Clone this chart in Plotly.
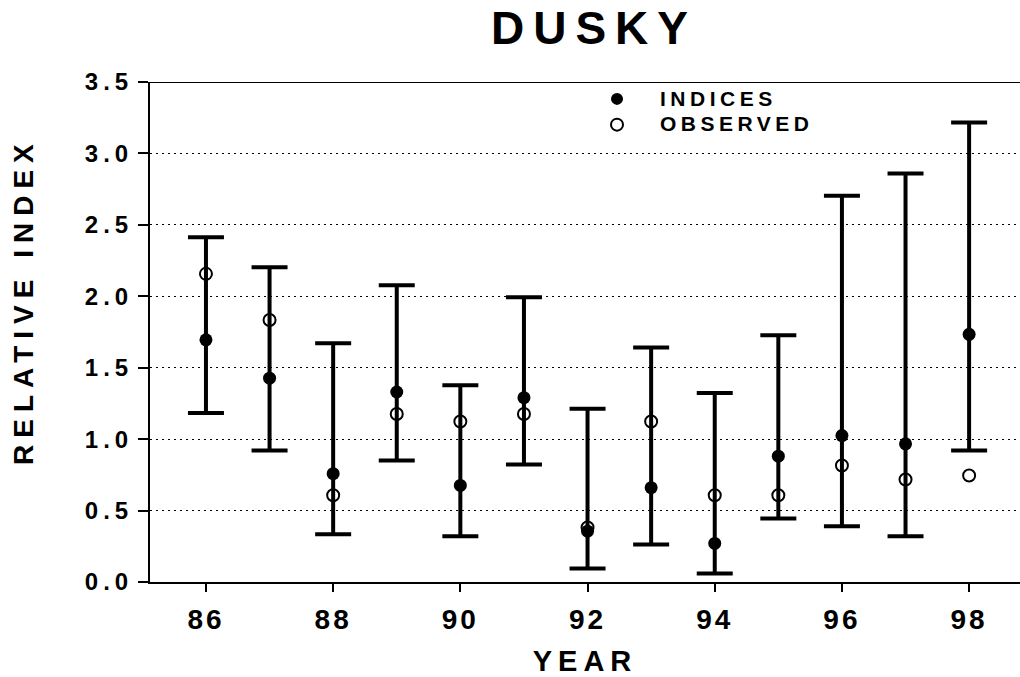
import plotly.graph_objects as go

# ---- data ----
years = [86, 87, 88, 89, 90, 91, 92, 93, 94, 95, 96, 97, 98]
indices = [1.695, 1.427, 0.758, 1.330, 0.676, 1.290, 0.356, 0.660, 0.270, 0.881, 1.025, 0.967, 1.734]
upper = [2.413, 2.204, 1.671, 2.078, 1.378, 1.994, 1.213, 1.641, 1.323, 1.727, 2.704, 2.859, 3.217]
lower = [1.183, 0.920, 0.335, 0.851, 0.321, 0.823, 0.095, 0.263, 0.060, 0.444, 0.390, 0.321, 0.920]
observed = [2.157, 1.834, 0.607, 1.176, 1.123, 1.176, 0.381, 1.123, 0.607, 0.607, 0.816, 0.718, 0.746]

x_ticks = [86, 88, 90, 92, 94, 96, 98]
x_labels = ["86", "88", "90", "92", "94", "96", "98"]
y_ticks = [0.0, 0.5, 1.0, 1.5, 2.0, 2.5, 3.0, 3.5]
y_labels = ["0.0", "0.5", "1.0", "1.5", "2.0", "2.5", "3.0", "3.5"]

FONT = "Liberation Sans, Arial, sans-serif"

W, H = 1020, 677
L, R, T, B = 150, 0, 82, 677 - 582
PW, PH = W - L - R, H - T - B


def spaced(txt, px, size=None):
    fs = f";font-size:{size}px" if size else ""
    return f'<span style="letter-spacing:{px}px{fs}">{txt}</span>'


err_plus = [u - v for u, v in zip(upper, indices)]
err_minus = [v - l for v, l in zip(indices, lower)]

fig = go.Figure()
fig.add_trace(go.Scatter(
    x=years, y=indices, mode="markers", name=spaced("INDICES", 4.5, 21),
    marker=dict(symbol="circle", size=13, color="black"),
    error_y=dict(type="data", array=err_plus, arrayminus=err_minus,
                 symmetric=False, thickness=4, width=18, color="black"),
))
fig.add_trace(go.Scatter(
    x=years, y=observed, mode="markers", name=spaced("OBSERVED", 4.5, 21),
    marker=dict(symbol="circle-open", size=12, color="black",
                line=dict(width=2, color="black")),
))

fig.add_shape(type="line", xref="paper", yref="y", x0=0, x1=1, y0=3.5, y1=3.5,
              line=dict(color="black", width=2))

fig.add_annotation(
    text=spaced("RELATIVE INDEX", 7), xref="paper", yref="paper",
    x=(23 - L) / PW, y=(582 - 301) / PH, textangle=-90, showarrow=False,
    xanchor="center", yanchor="middle",
    font=dict(family=FONT, size=28, color="black", weight="bold"),
)

fig.update_layout(
    width=W, height=H,
    margin=dict(l=L, r=R, t=T, b=B, pad=0),
    paper_bgcolor="white", plot_bgcolor="white",
    title=dict(text=spaced("DUSKY", 9), xref="container", x=594 / W,
               xanchor="center", yref="container", y=1 - 28 / H, yanchor="middle",
               font=dict(family=FONT, size=46, color="black", weight="bold")),
    font=dict(family=FONT, color="black"),
    showlegend=True,
    legend=dict(x=(574 - L) / PW, y=(582 - 81) / PH, xanchor="left", yanchor="top",
                bgcolor="rgba(0,0,0,0)", borderwidth=0, itemsizing="constant",
                itemwidth=76,
                font=dict(family=FONT, size=17.5, color="black", weight="bold")),
    xaxis=dict(range=[85.12, 98.80], tickmode="array", tickvals=x_ticks,
               ticktext=[spaced(t, 3) for t in x_labels],
               ticks="outside", ticklen=8, tickwidth=2, tickcolor="black",
               ticklabelstandoff=3,
               showline=True, linewidth=2, linecolor="black",
               showgrid=False, zeroline=False,
               tickfont=dict(family=FONT, size=28, color="black", weight="bold"),
               title=dict(text=spaced("YEAR", 6), standoff=19,
                          font=dict(family=FONT, size=29, color="black", weight="bold"))),
    yaxis=dict(range=[0, 3.5], tickmode="array", tickvals=y_ticks,
               ticktext=[spaced(t, 5) for t in y_labels],
               ticks="outside", ticklen=10, tickwidth=2, tickcolor="black",
               showline=True, linewidth=2, linecolor="black",
               showgrid=True, gridcolor="black", gridwidth=1, griddash="2px,4px",
               zeroline=False,
               tickfont=dict(family=FONT, size=24, color="black", weight="bold")),
)

fig.write_html("out.html", config={"displayModeBar": False},
               post_script="document.body.style.margin='0';")
